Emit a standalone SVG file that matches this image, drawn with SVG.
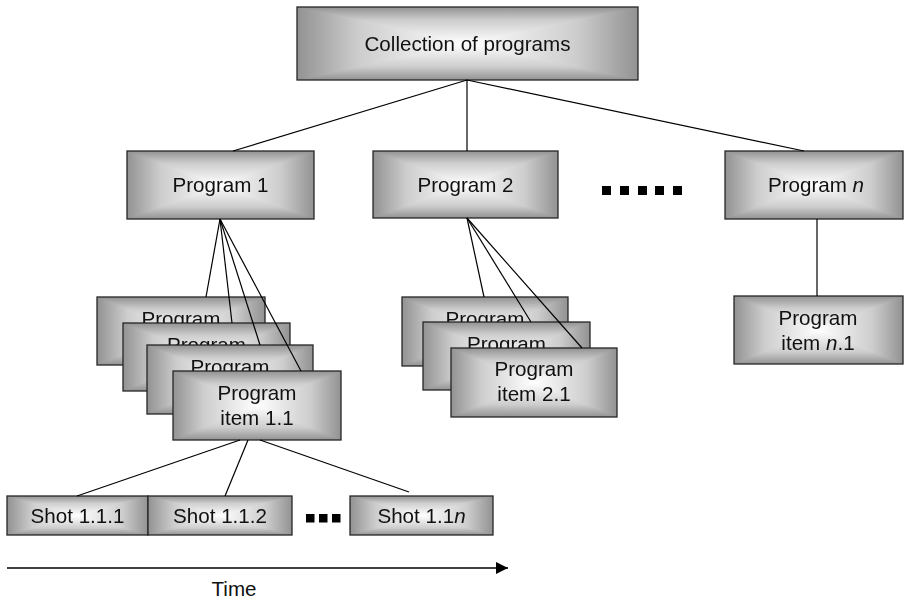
<svg xmlns="http://www.w3.org/2000/svg" width="904" height="602" viewBox="0 0 904 602">
  <defs>
    <!-- rectangular "from centre" shading: horizontal ramp darkened by a vertical ramp -->
    <linearGradient id="gh" x1="0" y1="0" x2="1" y2="0">
      <stop offset="0" stop-color="#929292"/>
      <stop offset="0.18" stop-color="#cdcdcd"/>
      <stop offset="0.5" stop-color="#ffffff"/>
      <stop offset="0.82" stop-color="#cdcdcd"/>
      <stop offset="1" stop-color="#929292"/>
    </linearGradient>
    <linearGradient id="gv" x1="0" y1="0" x2="0" y2="1">
      <stop offset="0" stop-color="#929292"/>
      <stop offset="0.18" stop-color="#cdcdcd"/>
      <stop offset="0.5" stop-color="#ffffff"/>
      <stop offset="0.82" stop-color="#cdcdcd"/>
      <stop offset="1" stop-color="#929292"/>
    </linearGradient>
    <marker id="arrow" viewBox="0 0 12 12" refX="12" refY="6" markerWidth="13" markerHeight="12" markerUnits="userSpaceOnUse" orient="auto">
      <path d="M0,0 L12,6 L0,12 z" fill="#000"/>
    </marker>
  </defs>
  <style>
    .node { isolation: isolate; }
    .h { fill: url(#gh); }
    .v { fill: url(#gv); mix-blend-mode: darken; }
    .edge { fill: none; stroke: #262626; stroke-width: 1.3; }
    text { font-family: "Liberation Sans", Arial, sans-serif; font-size: 20.6px; fill: #111; text-anchor: middle; }
    .conn line { stroke: #000; stroke-width: 1.2; }
    .dot { fill: #000; }
  </style>

  <rect width="904" height="602" fill="#fff"/>

  <!-- root -->
  <g id="collection" class="node">
    <rect class="h" x="297" y="7" width="341" height="73"/>
    <rect class="v" x="297" y="7" width="341" height="73"/>
    <rect class="edge" x="297" y="7" width="341" height="73"/>
    <text x="467.5" y="51">Collection of programs</text>
  </g>

  <!-- programs -->
  <g id="program1" class="node">
    <rect class="h" x="127" y="151" width="187" height="68"/>
    <rect class="v" x="127" y="151" width="187" height="68"/>
    <rect class="edge" x="127" y="151" width="187" height="68"/>
    <text x="220.5" y="192">Program 1</text>
  </g>
  <g id="program2" class="node">
    <rect class="h" x="373" y="151" width="185" height="67"/>
    <rect class="v" x="373" y="151" width="185" height="67"/>
    <rect class="edge" x="373" y="151" width="185" height="67"/>
    <text x="465.5" y="192">Program 2</text>
  </g>
  <g id="programN" class="node">
    <rect class="h" x="725" y="151" width="178" height="68"/>
    <rect class="v" x="725" y="151" width="178" height="68"/>
    <rect class="edge" x="725" y="151" width="178" height="68"/>
    <text x="816" y="192">Program <tspan font-style="italic">n</tspan></text>
  </g>

  <!-- ellipsis between programs -->
  <g id="programs-more">
    <rect class="dot" x="602" y="186" width="9" height="9"/>
    <rect class="dot" x="620" y="186" width="9" height="9"/>
    <rect class="dot" x="638" y="186" width="9" height="9"/>
    <rect class="dot" x="655" y="186" width="9" height="9"/>
    <rect class="dot" x="673" y="186" width="9" height="9"/>
  </g>

  <!-- program items of program 1 (stacked) -->
  <g id="item1-a" class="node">
    <rect class="h" x="97" y="297" width="168" height="68"/>
    <rect class="v" x="97" y="297" width="168" height="68"/>
    <rect class="edge" x="97" y="297" width="168" height="68"/>
    <text x="181" y="326">Program</text>
  </g>
  <g id="item1-b" class="node">
    <rect class="h" x="123" y="323" width="167" height="68"/>
    <rect class="v" x="123" y="323" width="167" height="68"/>
    <rect class="edge" x="123" y="323" width="167" height="68"/>
    <text x="206.5" y="352">Program</text>
  </g>
  <g id="item1-c" class="node">
    <rect class="h" x="147" y="345" width="166" height="69"/>
    <rect class="v" x="147" y="345" width="166" height="69"/>
    <rect class="edge" x="147" y="345" width="166" height="69"/>
    <text x="230" y="374">Program</text>
  </g>
  <g id="item1-1" class="node">
    <rect class="h" x="173" y="371" width="168" height="69"/>
    <rect class="v" x="173" y="371" width="168" height="69"/>
    <rect class="edge" x="173" y="371" width="168" height="69"/>
    <text x="257" y="400">Program</text>
    <text x="257" y="425">item 1.1</text>
  </g>

  <!-- program items of program 2 (stacked) -->
  <g id="item2-a" class="node">
    <rect class="h" x="402" y="297" width="166" height="69"/>
    <rect class="v" x="402" y="297" width="166" height="69"/>
    <rect class="edge" x="402" y="297" width="166" height="69"/>
    <text x="485" y="326">Program</text>
  </g>
  <g id="item2-b" class="node">
    <rect class="h" x="423" y="322" width="167" height="68"/>
    <rect class="v" x="423" y="322" width="167" height="68"/>
    <rect class="edge" x="423" y="322" width="167" height="68"/>
    <text x="506.5" y="351">Program</text>
  </g>
  <g id="item2-1" class="node">
    <rect class="h" x="451" y="348" width="166" height="69"/>
    <rect class="v" x="451" y="348" width="166" height="69"/>
    <rect class="edge" x="451" y="348" width="166" height="69"/>
    <text x="534" y="376">Program</text>
    <text x="534" y="401">item 2.1</text>
  </g>

  <!-- program item of program n -->
  <g id="itemN-1" class="node">
    <rect class="h" x="734" y="296" width="169" height="68"/>
    <rect class="v" x="734" y="296" width="169" height="68"/>
    <rect class="edge" x="734" y="296" width="169" height="68"/>
    <text x="818" y="325">Program</text>
    <text x="818" y="350">item <tspan font-style="italic">n</tspan>.1</text>
  </g>

  <!-- shots -->
  <g id="shot1" class="node">
    <rect class="h" x="7" y="496" width="141" height="39"/>
    <rect class="v" x="7" y="496" width="141" height="39"/>
    <rect class="edge" x="7" y="496" width="141" height="39"/>
    <text x="77.5" y="523">Shot 1.1.1</text>
  </g>
  <g id="shot2" class="node">
    <rect class="h" x="148" y="496" width="144" height="39"/>
    <rect class="v" x="148" y="496" width="144" height="39"/>
    <rect class="edge" x="148" y="496" width="144" height="39"/>
    <text x="220" y="523">Shot 1.1.2</text>
  </g>
  <g id="shots-more">
    <rect class="dot" x="306" y="514" width="8.5" height="8.5"/>
    <rect class="dot" x="319" y="514" width="8.5" height="8.5"/>
    <rect class="dot" x="332" y="514" width="8.5" height="8.5"/>
  </g>
  <g id="shotN" class="node">
    <rect class="h" x="350" y="496" width="143" height="39"/>
    <rect class="v" x="350" y="496" width="143" height="39"/>
    <rect class="edge" x="350" y="496" width="143" height="39"/>
    <text x="421.5" y="523">Shot 1.1<tspan font-style="italic">n</tspan></text>
  </g>

  <!-- connectors -->
  <g id="connectors" class="conn">
    <line x1="467" y1="80" x2="233" y2="151"/>
    <line x1="467" y1="80" x2="467" y2="151"/>
    <line x1="467" y1="80" x2="804" y2="151"/>

    <line x1="220" y1="219" x2="206" y2="297"/>
    <line x1="220" y1="219" x2="232" y2="323"/>
    <line x1="220" y1="219" x2="260" y2="345"/>
    <line x1="220" y1="219" x2="301" y2="371"/>

    <line x1="467" y1="218" x2="484" y2="297"/>
    <line x1="467" y1="218" x2="531" y2="322"/>
    <line x1="467" y1="218" x2="582" y2="348"/>

    <line x1="817" y1="219" x2="817" y2="296"/>

    <line x1="240" y1="440" x2="77" y2="496"/>
    <line x1="248" y1="440" x2="225" y2="496"/>
    <line x1="260" y1="440" x2="409" y2="492"/>
  </g>

  <!-- time axis -->
  <g id="time-axis">
    <line x1="7" y1="568" x2="508" y2="568" stroke="#000" stroke-width="1.3" marker-end="url(#arrow)"/>
    <text x="234" y="596">Time</text>
  </g>
</svg>
